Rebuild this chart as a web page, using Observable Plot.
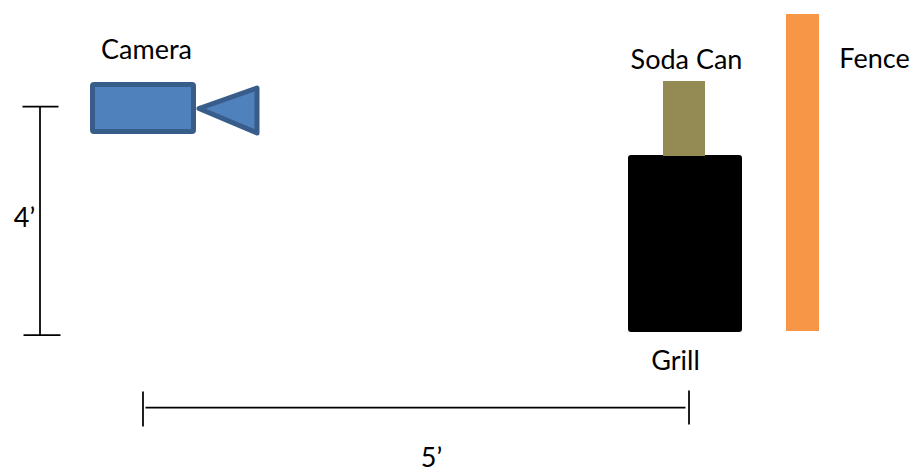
<!DOCTYPE html>
<html>
<head>
<meta charset="utf-8">
<style>html,body{margin:0;padding:0;background:#fff}svg{display:block}</style>
<script src="https://cdn.jsdelivr.net/npm/d3@7"></script>
<script src="https://cdn.jsdelivr.net/npm/@observablehq/plot@0.6"></script>
</head>
<body>
<script>
// Diagram geometry (scene units)
const bodyRect = [{x1: 92.5, x2: 193.5, y1: 84.5, y2: 131.5}];
const lensPoints = [{x: 198.5, y: 108}, {x: 256.5, y: 87.5}, {x: 256.5, y: 132.5}];
const grillRect = [{x1: 628, x2: 742, y1: 155, y2: 332}];
const canRect = [{x1: 663, x2: 705, y1: 81, y2: 156}];
const fenceRect = [{x1: 786, x2: 819, y1: 14, y2: 331}];
const dimensionLines = [
  {x1: 39.5, y1: 106, x2: 39.5, y2: 335},
  {x1: 22, y1: 106, x2: 58, y2: 106},
  {x1: 23, y1: 334.5, x2: 60, y2: 334.5},
  {x1: 145, y1: 407, x2: 685, y2: 407},
  {x1: 142.5, y1: 391, x2: 142.5, y2: 426},
  {x1: 688.5, y1: 390, x2: 688.5, y2: 424}
];
const labels = [
  {x: 146, y: 50, text: "Camera"},
  {x: 686, y: 60, text: "Soda Can"},
  {x: 874, y: 59, text: "Fence"},
  {x: 675, y: 361, text: "Grill"},
  {x: 24, y: 218, text: "4’"},
  {x: 431, y: 458, text: "5’"}
];

const chart = Plot.plot({
  width: 911,
  height: 470,
  margin: 0,
  x: {domain: [0, 911], range: [0, 911], axis: null},
  y: {domain: [0, 470], range: [0, 470], axis: null},
  style: {background: "#fff"},
  marks: [
    Plot.rect(fenceRect, {x1: "x1", x2: "x2", y1: "y1", y2: "y2", fill: "#f79646"}),
    Plot.rect(grillRect, {x1: "x1", x2: "x2", y1: "y1", y2: "y2", fill: "#000", rx: 3}),
    Plot.rect(canRect, {x1: "x1", x2: "x2", y1: "y1", y2: "y2", fill: "#948a54"}),
    Plot.rect(bodyRect, {x1: "x1", x2: "x2", y1: "y1", y2: "y2", fill: "#4f81bd", stroke: "#385d8a", strokeWidth: 5, rx: 1.5}),
    Plot.line([...lensPoints, lensPoints[0]], {x: "x", y: "y", fill: "#4f81bd", stroke: "#385d8a", strokeWidth: 5, strokeLinejoin: "round"}),
    Plot.link(dimensionLines, {x1: "x1", y1: "y1", x2: "x2", y2: "y2", stroke: "#000", strokeWidth: 1.75}),
    Plot.text(labels, {x: "x", y: "y", text: "text", fontSize: 27, fontFamily: "Lato", fill: "#000", textAnchor: "middle", lineAnchor: "middle"})
  ]
});
document.body.appendChild(chart);
</script>
</body>
</html>
